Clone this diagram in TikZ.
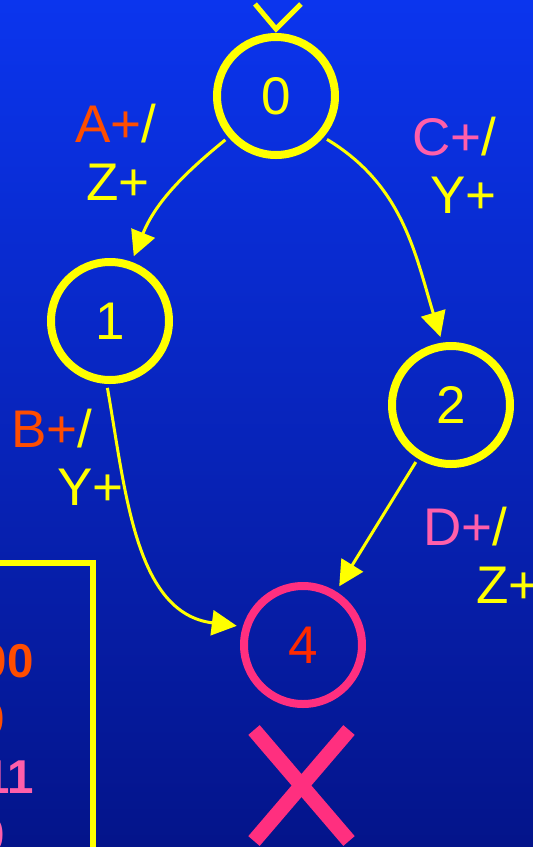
\documentclass[tikz,border=0pt]{standalone}
\usepackage{fontspec}
\setmainfont{Liberation Sans}
\usetikzlibrary{arrows.meta,positioning,calc}
\definecolor{bgtop}{HTML}{0B35EE}
\definecolor{bgbot}{HTML}{04148A}
\definecolor{gold}{HTML}{FFFF00}
\definecolor{inp}{HTML}{FF4D00}
\definecolor{inq}{HTML}{FF5FAA}
\definecolor{dead}{HTML}{FF2F7F}
\definecolor{deadtxt}{HTML}{FF2A00}
\newcommand{\statefont}{\fontsize{53}{58}\selectfont}
\newcommand{\cellfont}{\fontsize{47.5}{58}\selectfont\bfseries}
\tikzset{
  st/.style={
    circle, draw=gold, line width=8pt, minimum size=118pt, inner sep=0pt,
    text=gold, font=\statefont},
  tr/.style={-{Triangle[length=25pt,width=25pt]}, draw=gold, line width=3pt,
             shorten >=6pt, shorten <=4pt},
  vee/.style={draw=gold, line width=5pt},
  lbl/.style={text=gold, font=\statefont, inner sep=0pt, align=left},
  cell/.style={font=\cellfont, inner sep=0pt},
  crossbar/.style={draw=dead, line width=15pt},
}
\newcommand{\io}[4]{{\color{#2}#1}/\\\hspace*{#4}#3}

\begin{document}
\begin{tikzpicture}[x=1pt, y=1pt]
\useasboundingbox (0,0) rectangle (533,-847);
\clip (0,0) rectangle (533,-847);
\shade[top color=bgtop, bottom color=bgbot] (0,0) rectangle (533,-847);

% states
\node[st] (s0) at (276,-96)  {0};
\node[st] (s1) at (110,-321) {1};
\node[st] (s2) at (451,-405) {2};
\node[st, draw=dead, text=deadtxt] (s4) at (303,-645) {4};

% start mark on 0
\coordinate (itip) at ($(s0.north)+(0,4)$);
\coordinate (ia) at ($(itip)+(-21,25)$);
\coordinate (ib) at ($(itip)+(25,25)$);
\draw[vee] (ia) -- (itip) -- (ib);

% transitions
\draw[tr] (s0.221) to[out=219, in=68]  (s1.70);
\draw[tr] (s0.-41) to[out=-31, in=107] (s2.98);
\draw[tr] (s1.-93) to[out=-80, in=173] (s4.163);
\draw[tr] (s2) -- (s4);

% labels: base is the second line
\node[lbl, anchor=base west] (lA) at (75,-200)  {\io{A+}{inp}{Z+}{11pt}};
\node[lbl, anchor=base west] (lC) at (412,-213) {\io{C+}{inq}{Y+}{18pt}};
\node[lbl, anchor=base west] (lB) at (11,-505)  {\io{B+}{inp}{Y+}{46pt}};
\node[lbl, anchor=base west] (lD) at (423,-603) {\io{D+}{inq}{Z+}{53pt}};

% dead state
\coordinate (xc) at (301.5,-785.5);
\draw[crossbar] ($(xc)+(-47.5,55.5)$) -- ($(xc)+(47.5,-55.5)$);
\draw[crossbar] ($(xc)+(47.5,55.5)$) -- ($(xc)+(-47.5,-55.5)$);

% the table, cut by the left edge
\draw[gold, line width=6pt] (-20,-563) rectangle (93,-880);
\node[cell, text=inp, anchor=base east] (r1) at (34,-677)  {00};
\node[cell, text=inp, anchor=base east] (r2) at (5.5,-735) {0};
\node[cell, text=inq, anchor=base east] (r3) at (34,-793)  {11};
\node[cell, text=inq, anchor=base east] (r4) at (5.5,-851) {0};

\end{tikzpicture}
\end{document}
